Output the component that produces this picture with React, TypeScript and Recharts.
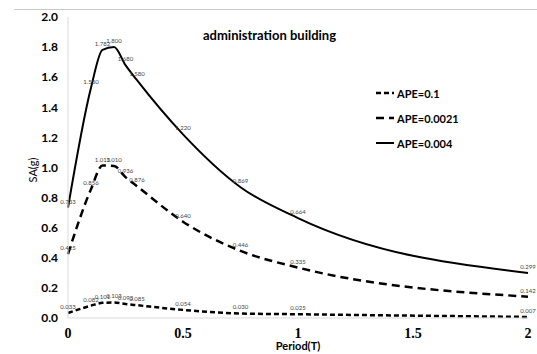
import React from "react";
import { LineChart, Line, XAxis, YAxis, LabelList } from "recharts";

const periods = [0, 0.1, 0.15, 0.2, 0.25, 0.3, 0.5, 0.75, 1, 2];
const ape01 = [0.033, 0.082, 0.101, 0.103, 0.093, 0.085, 0.054, 0.03, 0.025, 0.007];
const ape0021 = [0.425, 0.856, 1.013, 1.01, 0.936, 0.876, 0.64, 0.446, 0.335, 0.142];
const ape004 = [0.733, 1.53, 1.782, 1.8, 1.68, 1.58, 1.22, 0.869, 0.664, 0.299];

const xTicks = [0, 0.5, 1, 1.5, 2];
const yTicks = [0, 0.2, 0.4, 0.6, 0.8, 1.0, 1.2, 1.4, 1.6, 1.8, 2.0];

const data = periods.map((t, i) => ({
  t,
  a: ape01[i],
  b: ape0021[i],
  c: ape004[i],
}));

const series = [
  { key: "a", name: "APE=0.1", dash: "5 3", width: 2.5 },
  { key: "b", name: "APE=0.0021", dash: "8 5", width: 2.5 },
  { key: "c", name: "APE=0.004", dash: undefined, width: 2 },
];

const sans = "Lato";
const fmt = (v: any) => Number(v).toFixed(3);

export default function App() {
  return (
    <div style={{ position: "absolute", top: 0, left: 0, width: 537, height: 354, background: "#fff" }}>
      <div style={{ position: "absolute", top: 9, left: 14, width: 523, borderTop: "1px solid #c8c8c8" }} />
      <LineChart
        width={537}
        height={354}
        data={data}
        margin={{ top: 17, right: 9, bottom: 12, left: 0 }}
      >
        <XAxis
          dataKey="t"
          type="number"
          domain={[0, 2]}
          ticks={xTicks}
          height={24}
          tickLine={false}
          axisLine={{ stroke: "#d9d9d9" }}
          tickMargin={4}
          tick={{ fill: "#000", fontSize: 14, fontWeight: 700, fontFamily: "Liberation Serif" }}
        />
        <YAxis
          type="number"
          domain={[0, 2]}
          ticks={yTicks}
          width={68}
          tickLine={false}
          axisLine={{ stroke: "#d9d9d9" }}
          tickMargin={4}
          tickFormatter={(v: number) => v.toFixed(1)}
          tick={{ fill: "#000", fontSize: 12, fontWeight: 700, fontFamily: sans }}
        />
        {series.map((s) => (
          <Line
            key={s.key}
            type="monotone"
            dataKey={s.key}
            stroke="#000"
            strokeWidth={s.width}
            strokeDasharray={s.dash}
            dot={false}
            isAnimationActive={false}
          >
            <LabelList
              dataKey={s.key}
              position="top"
              offset={4}
              formatter={fmt}
              style={{ fontSize: 6, fill: "#444", fontFamily: sans }}
            />
          </Line>
        ))}
      </LineChart>

      <div
        style={{
          position: "absolute", left: 203, top: 27, fontFamily: sans, fontWeight: 700,
          fontSize: 13, color: "#000", whiteSpace: "nowrap",
        }}
      >
        administration building
      </div>

      <div
        style={{
          position: "absolute", left: 298, top: 339, transform: "translateX(-50%)",
          fontFamily: sans, fontWeight: 700, fontSize: 11, color: "#000", whiteSpace: "nowrap",
        }}
      >
        Period(T)
      </div>

      <div
        style={{
          position: "absolute", left: 32, top: 170, transform: "translate(-50%, -50%) rotate(-90deg)",
          fontFamily: sans, fontSize: 11, color: "#000", whiteSpace: "nowrap",
        }}
      >
        SA(g)
      </div>

      {series.map((s, i) => (
        <div
          key={s.key}
          style={{
            position: "absolute", left: 376, top: 86 + i * 25, height: 14,
            display: "flex", alignItems: "center", gap: 3,
            fontFamily: sans, fontWeight: 700, fontSize: 11, color: "#000", whiteSpace: "nowrap",
          }}
        >
          <svg width={18} height={4}>
            <line x1={0} y1={2} x2={18} y2={2} stroke="#000" strokeWidth={s.width} strokeDasharray={s.dash} />
          </svg>
          <span>{s.name}</span>
        </div>
      ))}
    </div>
  );
}
